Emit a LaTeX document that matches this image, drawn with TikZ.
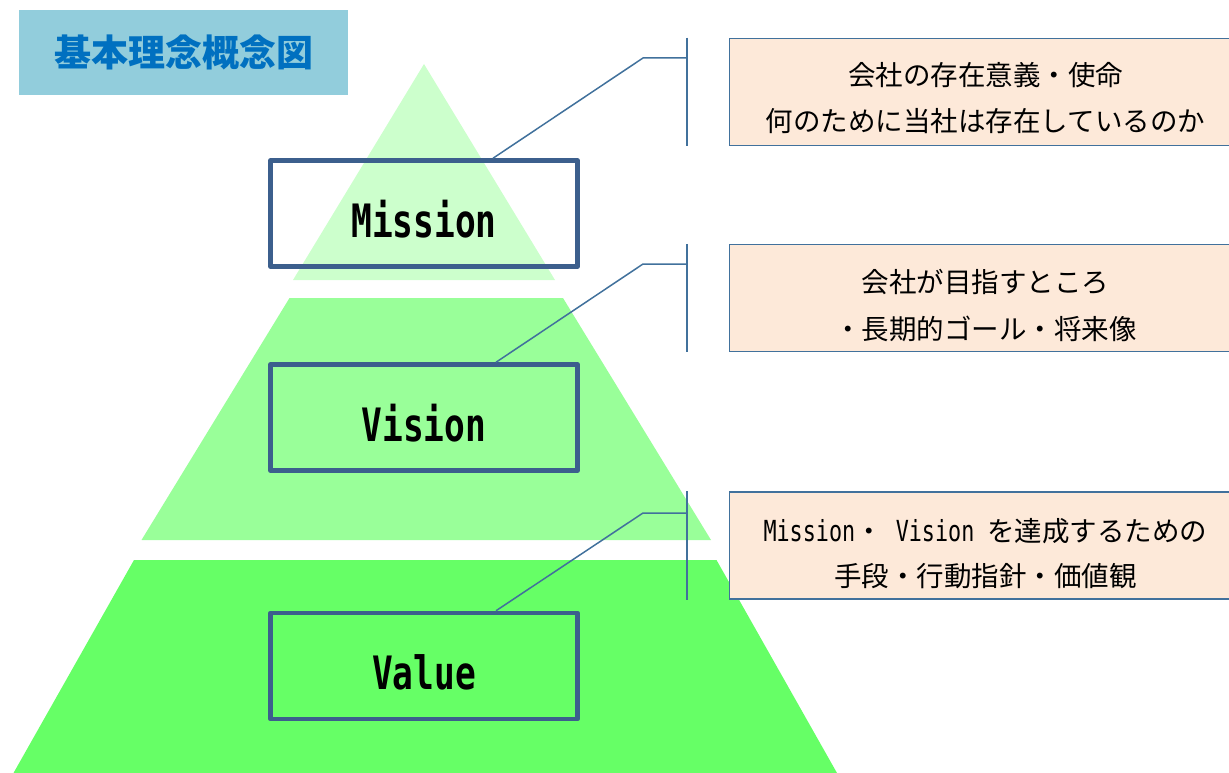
\documentclass[tikz,border=0pt]{standalone}
\usepackage{fontspec}
\setmainfont{Noto Sans CJK JP}
\newfontfamily\halfwidth[FakeStretch=0.75]{DejaVu Sans Mono}

\definecolor{titlecyan}{HTML}{92CDDC}
\definecolor{titleblue}{HTML}{0070C0}
\definecolor{boxblue}{HTML}{3C5F8D}
\definecolor{noteblue}{HTML}{41719C}
\definecolor{notepeach}{HTML}{FDE9D9}
\definecolor{layerpale}{HTML}{CCFFCC}
\definecolor{layerlight}{HTML}{99FF99}
\definecolor{layerbright}{HTML}{66FF66}

\begin{document}
\begin{tikzpicture}[x=1pt,y=-1pt,
    layer box/.style={draw=boxblue,line width=4.5pt,line join=round,minimum width=307pt,minimum height=106pt,inner sep=0pt,text height=47.5pt,text depth=0pt,font=\halfwidth\bfseries\fontsize{46}{50}\selectfont},
    note box/.style={draw=noteblue,line width=1.5pt,fill=notepeach,minimum width=512pt,minimum height=107pt,inner sep=0pt,align=center,text height=80pt,text depth=0pt,font=\fontsize{27.5}{47}\selectfont},
    callout/.style={noteblue,line width=1.5pt}]
        \useasboundingbox (0,0) rectangle (1229,773);

        % Title
        \node[fill=titlecyan,minimum width=329pt,minimum height=85pt,text=titleblue,font=\bfseries\fontsize{37}{40}\selectfont] (title) at (183.5,52.5) {基本理念概念図};

        % Pyramid layers
        \fill[layerpale] (424,64) -- (555,280) -- (293,280) -- cycle;
        \fill[layerlight] (289.5,298) -- (563,298) -- (711,540) -- (141.5,540) -- cycle;
        \fill[layerbright] (134,560) -- (716.5,560) -- (837,773) -- (13.5,773) -- cycle;

        % Layer labels
        \node[layer box] (mission) at (424,213.5) {Mission};
        \node[layer box] (vision) at (424,417.5) {Vision};
        \node[layer box] (value) at (424,666) {Value};

        % Notes
        \node[note box] (mission note) at (985.5,92) {会社の存在意義・使命\\何のために当社は存在しているのか};
        \node[note box,text height=82pt] (vision note) at (985.5,298) {会社が目指すところ\\・長期的ゴール・将来像};
        \node[note box,text height=81pt,font=\fontsize{27.5}{45}\selectfont] (value note) at (985.5,545.5) {{\halfwidth\fontsize{29}{45}\selectfont Mission}・{\halfwidth\fontsize{29}{45}\selectfont\ Vision }を達成するための\\手段・行動指針・価値観};

        % Callouts
        \coordinate (mission bar) at (687,58);
        \coordinate (vision bar) at (687,264);
        \coordinate (value bar) at (687,513);
        \draw[callout] (mission bar |- mission note.north) -- (mission bar |- mission note.south);
        \draw[callout] ([xshift=69pt]mission.north) -- ([xshift=-44pt]mission bar) -- (mission bar);
        \draw[callout] (vision bar |- vision note.north) -- (vision bar |- vision note.south);
        \draw[callout] ([xshift=72pt]vision.north) -- ([xshift=-44pt]vision bar) -- (vision bar);
        \draw[callout] (value bar |- value note.north) -- (value bar |- value note.south);
        \draw[callout] ([xshift=72pt]value.north) -- ([xshift=-44pt]value bar) -- (value bar);

      \end{tikzpicture}
\end{document}
